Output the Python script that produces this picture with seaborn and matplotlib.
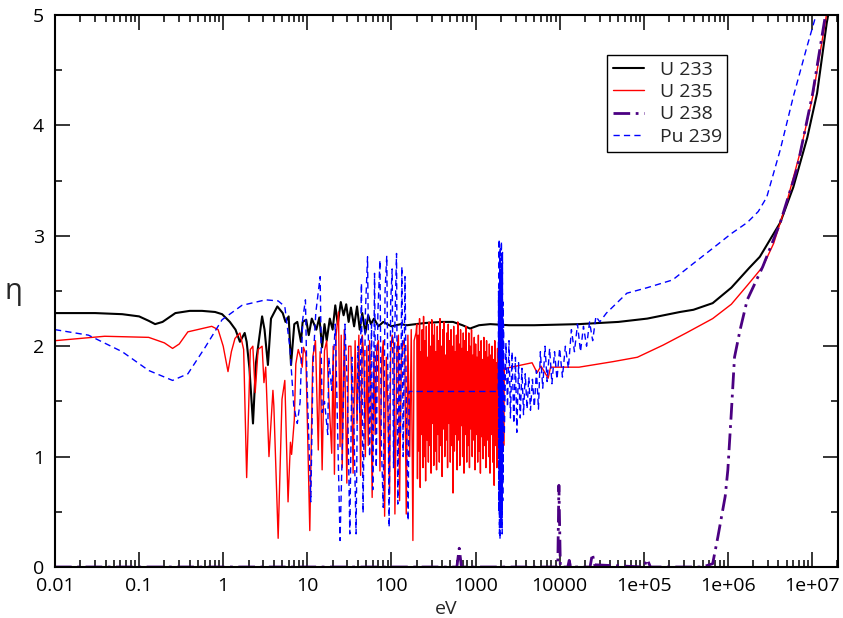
import matplotlib
matplotlib.use("Agg")
import matplotlib.pyplot as plt
import matplotlib.ticker as mticker
import seaborn as sns

# values: neutron energy (eV) and eta
u233_e = [0.01, 0.03, 0.063, 0.10, 0.13, 0.155, 0.19, 0.27, 0.4, 0.56, 0.8, 0.97,
          1.2, 1.4, 1.58, 1.8, 1.9, 2.05, 2.26, 2.45, 2.9, 3.1, 3.4, 3.7, 4.4, 5.1,
          5.5, 6.0, 6.4, 7.0, 7.6, 8.4, 8.8, 9.7, 10.4, 11.3, 12.8, 13.9, 15, 16,
          17, 18.5, 20, 21.5, 23, 25, 27, 29, 31, 33, 36, 39, 42, 45, 49, 53, 57,
          62, 70, 80, 100, 130, 153, 250, 400, 540, 700, 860, 1100, 1500, 2500,
          5000, 1.7e4, 5e4, 1.1e5, 2.7e5, 3.9e5, 6.6e5, 1.1e6, 1.8e6, 2.4e6,
          4.2e6, 6e6, 8.8e6, 1.15e7, 1.5e7, 1.7e7]
u233_eta = [2.30, 2.30, 2.29, 2.27, 2.23, 2.20, 2.22, 2.30, 2.32, 2.32, 2.31, 2.29,
            2.22, 2.15, 2.04, 2.12, 2.04, 1.80, 1.30, 1.85, 2.27, 2.15, 1.83, 2.25,
            2.36, 2.30, 2.22, 2.27, 1.83, 2.20, 2.22, 2.04, 2.22, 2.24, 2.10, 2.25,
            2.15, 2.26, 1.99, 2.20, 2.05, 2.25, 2.15, 2.37, 2.20, 2.40, 2.28, 2.38,
            2.22, 2.35, 2.18, 2.36, 2.15, 2.30, 2.12, 2.28, 2.20, 2.25, 2.18, 2.22,
            2.18, 2.20, 2.19, 2.21, 2.22, 2.22, 2.19, 2.16, 2.19, 2.20, 2.19, 2.19,
            2.20, 2.22, 2.25, 2.31, 2.33, 2.39, 2.53, 2.71, 2.81, 3.12, 3.44, 3.89,
            4.29, 4.93, 5.15]

u235_e = [0.01, 0.039, 0.13, 0.2, 0.25, 0.3, 0.38, 0.73, 0.87, 1.0, 1.14, 1.25,
          1.38, 1.58, 1.75, 1.9, 2.1, 2.25, 2.4, 2.6, 2.9, 3.05, 3.2, 3.5, 3.9,
          4.0, 4.5, 5.0, 5.4, 5.9, 6.3, 6.5, 7.0, 7.3, 7.8, 8.3, 8.7, 9.0, 9.6,
          10.7, 11.6, 12.5, 13.5, 14.2, 15, 16, 17, 18, 19.5,
          20.3, 21, 22, 23.5, 24.5, 25.3, 26, 27.5, 29.5, 31,
          33, 35, 37, 39, 41, 43, 45, 47, 49, 51,
          53, 55, 57, 59, 62, 64, 67, 70, 73, 77,
          80, 83, 87, 91, 95, 98, 102, 107, 110, 116,
          121, 125, 131, 138, 144, 150, 157, 165, 172, 180,
          186, 196,
          200, 204, 208, 212, 216, 220, 224, 228, 232, 237,
          241, 246, 250, 255, 260, 265, 270, 275, 280, 285,
          291, 296, 302, 308, 313, 319, 325, 332, 338, 344,
          351, 357, 364, 371, 378, 385, 393, 400, 408, 415,
          423, 431, 439, 448, 456, 465, 474, 483, 492, 501,
          511, 520, 530, 540, 550, 561, 571, 582, 593, 604,
          616, 627, 639, 651, 664, 676, 689, 702, 715, 729,
          743, 757, 771, 786, 801, 816, 831, 847, 863, 879,
          896, 913, 930, 948, 966, 984, 1003, 1022, 1041, 1061,
          1081, 1101, 1122, 1143, 1165, 1187, 1209, 1232, 1256, 1279,
          1303, 1328, 1353, 1379, 1405, 1432, 1459, 1486, 1514, 1543,
          1572, 1602, 1632, 1663, 1694, 1726, 1759, 1792, 1826, 1861,
          1896, 1932, 1968, 2005, 2043, 2082, 2121, 2161, 2200,
          2300, 4700, 5400, 6000, 7300, 7800, 1.7e4, 4.3e4, 8.4e4, 1.7e5, 3.2e5,
          6.6e5, 1.1e6, 1.7e6, 2.6e6, 3.5e6, 5e6, 7.2e6, 1.02e7, 1.45e7, 1.6e7]
u235_eta = [2.05, 2.09, 2.08, 2.03, 1.98, 2.02, 2.13, 2.18, 2.15, 2.00, 1.77, 1.95,
            2.07, 2.12, 1.97, 0.81, 1.97, 2.00, 1.58, 1.97, 2.00, 1.67, 1.81, 1.00,
            1.60, 1.46, 0.26, 1.52, 1.69, 0.59, 1.13, 1.02, 1.33, 1.84, 1.97, 1.90,
            1.81, 1.99, 1.93,
            0.33, 1.90, 2.05, 1.06, 1.95, 0.88, 1.96, 2.05, 1.55, 1.03,
            2.00, 0.84, 2.10, 2.31, 1.09, 2.10, 0.90, 2.15, 0.76, 2.00,
            2.00, 0.85, 2.05, 1.30, 2.10, 0.83, 2.10, 1.90, 1.00, 2.00,
            1.10, 2.05, 1.60, 0.63, 1.95, 1.20, 2.00, 2.05, 0.87, 1.90,
            2.05, 0.46, 1.90, 1.40, 0.66, 1.95, 2.10, 2.00, 0.48, 1.95,
            2.10, 0.60, 1.85, 2.05, 2.00, 0.48, 2.10, 1.00, 2.15, 0.24,
            2.05, 2.12,
            2.20, 0.80, 2.10, 1.05, 2.25, 0.72, 1.95, 1.20, 2.15, 0.90,
            2.27, 1.00, 2.05, 0.78, 2.18, 1.15, 1.90, 0.95, 2.22, 1.10,
            2.00, 0.85, 2.24, 1.30, 2.10, 0.92, 2.20, 1.05, 1.95, 0.88,
            2.18, 1.20, 2.05, 0.95, 2.25, 1.10, 2.00, 0.82, 2.15, 1.25,
            2.22, 1.00, 1.92, 1.15, 2.12, 0.90, 2.20, 1.30, 2.05, 0.95,
            2.15, 1.10, 2.00, 0.67, 2.18, 1.05, 1.95, 1.20, 2.10, 0.88,
            2.22, 1.15, 2.02, 0.92, 2.15, 1.28, 1.98, 1.00, 2.12, 0.85,
            2.05, 1.20, 2.18, 0.95, 1.95, 1.10, 2.12, 0.90, 2.00, 1.25,
            2.15, 1.00, 1.92, 1.15, 2.08, 0.88, 2.02, 1.20, 1.90, 0.95,
            2.10, 1.05, 1.95, 0.85, 2.05, 1.18, 1.88, 0.98, 2.08, 1.10,
            1.95, 0.90, 2.05, 1.15, 1.90, 1.00, 2.02, 0.85, 1.92, 1.20,
            2.00, 0.95, 1.88, 0.74, 2.05, 1.10, 1.85, 0.90, 1.98, 1.05,
            1.90, 0.85, 2.00, 1.15, 1.85, 0.95, 1.92, 1.10, 1.80,
            1.80, 1.85, 1.76, 1.82, 1.71, 1.81, 1.81, 1.86, 1.90, 2.01, 2.12,
            2.25, 2.38, 2.55, 2.72, 2.93, 3.30, 3.75, 4.26, 4.95, 5.15]

u238_e = [0.01, 600, 640, 680, 9500, 9800, 10200, 12500, 13000, 13500, 23000,
          24500, 26000, 1e5, 1.1e5, 1.2e5, 5e5, 6.6e5, 7.6e5, 9.3e5, 1.0e6,
          1.1e6, 1.2e6, 1.4e6, 1.7e6, 2.6e6, 4.2e6, 6.6e6, 1.02e7, 1.35e7, 1.6e7]
u238_eta = [0.0, 0.0, 0.17, 0.0, 0.0, 0.74, 0.0, 0.0, 0.06, 0.0, 0.0,
            0.12, 0.02, 0.0, 0.07, 0.0, 0.0, 0.03, 0.27, 0.64, 0.88,
            1.40, 1.90, 2.15, 2.42, 2.72, 3.12, 3.60, 4.29, 4.86, 5.20]

pu239_e = [0.01, 0.025, 0.063, 0.13, 0.25, 0.38, 0.61, 0.97, 1.67, 3.2,
           4.5, 5.4, 6.2, 6.9, 7.6, 8.2, 8.8, 9.5, 9.9, 11,
           11.7, 12.6, 14.2, 15, 16, 17.5, 18, 19.5, 21.5, 24.5,
           26.5, 28, 30, 32, 34, 36, 38, 40, 42, 44,
           46, 49, 52, 55, 58, 60, 63, 66, 69, 73,
           76, 80, 84, 88, 94, 98, 102, 106, 110, 115,
           119, 124, 128, 133, 138, 145, 152, 158, 162, 1860,
           1880, 1895, 1910, 1925, 1940, 1955, 1970, 1985, 2000, 2015,
           2030, 2045, 2060, 2075, 2090, 2105, 2120, 2135, 2150, 2200,
           2300, 2400, 2500, 2600, 2720, 2850, 2980, 3100, 3250, 3400,
           3560, 3720, 3900, 4100, 4300, 4500, 4750, 5000, 5300, 5600,
           5900, 6300, 6700, 7100, 7600, 8100, 8700, 9300, 10000, 10800,
           11700, 12700, 13800, 15000, 16300, 17700, 19200, 20900, 22700, 24700,
           27000, 30000, 36000, 63000, 1.1e5, 2.2e5, 3.9e5, 6.7e5, 1.1e6, 1.7e6,
           2.3e6, 2.9e6, 4.2e6, 6e6, 8.7e6, 1.1e7, 1.2e7]
pu239_eta = [2.15, 2.10, 1.95, 1.78, 1.69, 1.75, 1.99, 2.24, 2.37, 2.42,
             2.41, 2.36, 1.99, 1.46, 1.30, 1.49, 2.24, 2.42, 1.69, 0.59,
             1.84, 2.30, 2.63, 1.40, 1.50, 1.20, 1.90, 1.60, 2.20, 0.24,
             1.30, 2.20, 1.60, 0.30, 1.90, 1.20, 0.30, 2.00, 1.40, 2.57,
             0.49, 2.30, 2.81, 1.00, 2.20, 0.70, 2.66, 0.90, 2.30, 2.78,
             1.10, 0.54, 2.50, 2.82, 0.36, 2.40, 2.70, 0.90, 2.20, 2.84,
             0.57, 2.00, 1.20, 2.72, 1.00, 2.63, 1.20, 0.42, 1.59, 1.59,
             2.50, 0.50, 2.97, 0.30, 2.80, 0.25, 2.90, 0.40, 2.70, 0.36,
             2.95, 0.50, 2.60, 0.30, 2.85, 0.60, 2.40, 0.80, 2.20, 1.20,
             2.03, 1.45, 2.05, 1.35, 1.95, 1.30, 1.90, 1.22, 1.85, 1.35,
             1.80, 1.38, 1.75, 1.43, 1.72, 1.42, 1.70, 1.45, 1.78, 1.43,
             1.95, 1.62, 2.00, 1.68, 1.98, 1.66, 1.95, 1.70, 1.98, 1.72,
             2.00, 1.80, 2.15, 1.95, 2.20, 1.95, 2.18, 2.00, 2.22, 2.05,
             2.27, 2.22, 2.30, 2.48, 2.53, 2.60, 2.75, 2.89, 3.02, 3.12,
             3.22, 3.35, 3.78, 4.26, 4.71, 4.98, 5.10]

x_ticks = [0.01, 0.1, 1, 10, 100, 1000, 10000, 1e5, 1e6, 1e7]
x_tick_labels = ["0.01", "0.1", "1", "10", "100", "1000", "10000",
                 "1e+05", "1e+06", "1e+07"]

sns.set_theme(style="ticks")
plt.rcParams['font.family'] = ['Open Sans', 'DejaVu Sans']
plt.rcParams['lines.scale_dashes'] = False

fig = plt.figure(figsize=(8.43, 6.18), dpi=100)
ax = fig.add_axes([55 / 843, 1 - 567 / 618, 783 / 843, 552 / 618])

sns.lineplot(x=u233_e, y=u233_eta, color="black", lw=1.5, label="U 233",
             estimator=None, sort=False, ax=ax)
sns.lineplot(x=u235_e, y=u235_eta, color="#ff0000", lw=1.0, label="U 235",
             estimator=None, sort=False, ax=ax)
sns.lineplot(x=u238_e, y=u238_eta, color="#4b0082", lw=2.0, label="U 238",
             linestyle=(0, (12, 4, 2, 4)), estimator=None, sort=False, ax=ax)
sns.lineplot(x=pu239_e, y=pu239_eta, color="#0000ff", lw=1.0, label="Pu 239",
             linestyle=(0, (4.5, 3)), estimator=None, sort=False, ax=ax)

ax.set_xscale("log")
ax.set_xlim(0.01, 2.04e7)
ax.set_ylim(0, 5)
ax.xaxis.set_major_locator(mticker.FixedLocator(x_ticks))
ax.xaxis.set_major_formatter(mticker.FixedFormatter(x_tick_labels))
ax.xaxis.set_minor_locator(mticker.LogLocator(base=10, subs=range(2, 10), numticks=20))
ax.xaxis.set_minor_formatter(mticker.NullFormatter())
ax.yaxis.set_major_locator(mticker.MultipleLocator(1))
ax.yaxis.set_minor_locator(mticker.MultipleLocator(0.5))

ax.tick_params(which="both", direction="in", top=True, right=True,
               colors="black", labelsize=14, width=1.1)
ax.tick_params(which="major", length=10.8)
ax.tick_params(which="minor", length=5)
ax.tick_params(axis="x", pad=7.5)
ax.tick_params(axis="y", pad=8)
for sp in ax.spines.values():
    sp.set_linewidth(1.5)
    sp.set_color("black")

ax.set_xlabel("eV", fontsize=14, labelpad=3)
ax.set_ylabel("η", fontsize=21, rotation=0, labelpad=14, va="center")

leg = ax.legend(loc="upper left", bbox_to_anchor=(607 / 843, 1 - 55 / 618),
                bbox_transform=fig.transFigure, borderaxespad=0, fontsize=14,
                frameon=True, fancybox=False, handlelength=1.6, labelspacing=0.22,
                borderpad=0.3, handletextpad=0.8)
leg.get_frame().set_edgecolor("black")
leg.get_frame().set_linewidth(1.0)
leg.get_frame().set_alpha(1)

fig.savefig("out.png", dpi=100)
